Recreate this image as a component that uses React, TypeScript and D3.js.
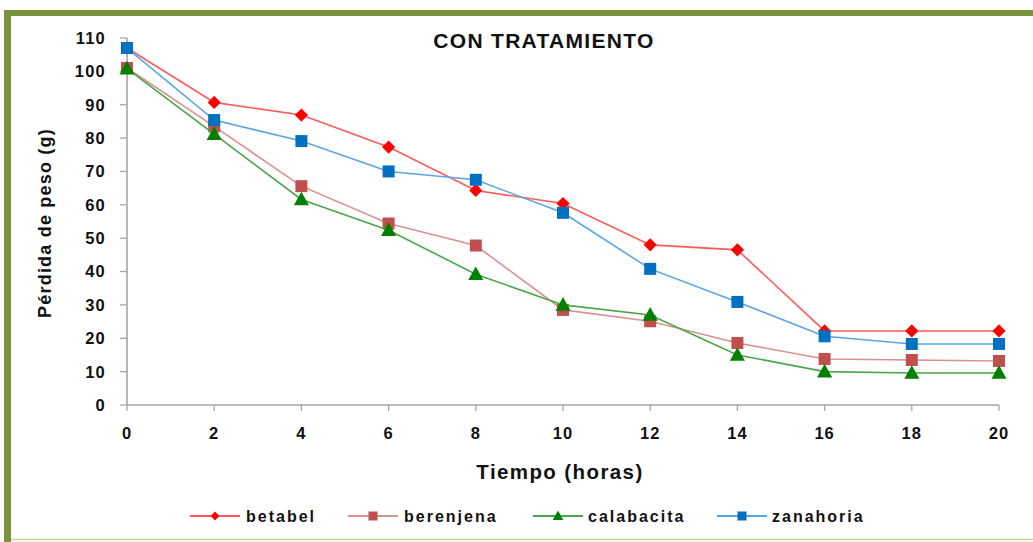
import React from "react";
import * as d3 from "d3";

// Horas de muestreo
const horas = [0, 2, 4, 6, 8, 10, 12, 14, 16, 18, 20];

// Pérdida de peso (g) por hortaliza
const betabel = [107, 90.7, 86.9, 77.3, 64.3, 60.4, 48, 46.5, 22.2, 22.2, 22.2];
const berenjena = [101, 83.5, 65.6, 54.4, 47.8, 28.5, 25.1, 18.6, 13.8, 13.5, 13.2];
const calabacita = [100.8, 81.2, 61.6, 52.4, 39.2, 30, 27, 15, 10, 9.6, 9.6];
const zanahoria = [107, 85.4, 79.1, 70, 67.5, 57.6, 40.8, 30.9, 20.6, 18.3, 18.3];

const yTicks = [0, 10, 20, 30, 40, 50, 60, 70, 80, 90, 100, 110];
const xTicks = [0, 2, 4, 6, 8, 10, 12, 14, 16, 18, 20];

type Shape = "diamond" | "square" | "triangle";
interface Serie {
  name: string;
  values: number[];
  line: string;
  fill: string;
  shape: Shape;
}

const series: Serie[] = [
  { name: "betabel", values: betabel, line: "#ff5a5a", fill: "#ff0000", shape: "diamond" },
  { name: "berenjena", values: berenjena, line: "#d99290", fill: "#c0504d", shape: "square" },
  { name: "calabacita", values: calabacita, line: "#4aa64a", fill: "#008000", shape: "triangle" },
  { name: "zanahoria", values: zanahoria, line: "#5aa5e6", fill: "#0070c0", shape: "square" },
];

const W = 1033;
const H = 542;
const FONT = "'Liberation Sans', Arial, sans-serif";

const x = d3.scaleLinear().domain([0, 20]).range([127, 999]);
const y = d3.scaleLinear().domain([0, 110]).range([405, 38]);

function Marker({ shape, cx, cy, fill, size }: { shape: Shape; cx: number; cy: number; fill: string; size: number }) {
  if (shape === "square") {
    return <rect x={cx - size / 2} y={cy - size / 2} width={size} height={size} fill={fill} />;
  }
  if (shape === "diamond") {
    const r = size * 0.55;
    return <path d={`M${cx},${cy - r}L${cx + r},${cy}L${cx},${cy + r}L${cx - r},${cy}Z`} fill={fill} />;
  }
  const hw = size * 0.58;
  const h = size;
  return (
    <path
      d={`M${cx},${cy - h * 0.6}L${cx + hw},${cy + h * 0.45}L${cx - hw},${cy + h * 0.45}Z`}
      fill={fill}
    />
  );
}

export default function App() {
  const line = d3
    .line<number>()
    .x((_, i) => x(horas[i]))
    .y((v) => y(v));

  const legendItems = [
    { s: series[0], lx: 190, tx: 246 },
    { s: series[1], lx: 348, tx: 404 },
    { s: series[2], lx: 533, tx: 588 },
    { s: series[3], lx: 717, tx: 772 },
  ];

  return (
    <svg
      width={W}
      height={H}
      style={{ position: "absolute", left: 0, top: 0, background: "#ffffff" }}
      fontFamily={FONT}
    >
      {/* marco */}
      <rect x={4} y={10} width={W - 4} height={6} fill="#77933c" />
      <rect x={4} y={10} width={7} height={H - 10} fill="#77933c" />
      <line x1={11} x2={W} y1={539.5} y2={539.5} stroke="#c3d69b" strokeWidth={1.5} />

      {/* título */}
      <text x={544} y={47.5} textAnchor="middle" fontSize={21} fontWeight="bold" letterSpacing={1.3} fill="#111">
        CON TRATAMIENTO
      </text>

      {/* eje Y */}
      <line x1={x(0)} x2={x(0)} y1={y(110)} y2={y(0)} stroke="#a6a6a6" strokeWidth={1.6} />
      {yTicks.map((t) => (
        <g key={`y${t}`}>
          <line x1={x(0) - 7} x2={x(0)} y1={y(t)} y2={y(t)} stroke="#a6a6a6" strokeWidth={1.3} />
          <text
            x={106}
            y={y(t)}
            dy="0.36em"
            textAnchor="end"
            fontSize={16.5}
            fontWeight="bold"
            letterSpacing={1.2}
            fill="#111"
          >
            {t}
          </text>
        </g>
      ))}

      {/* eje X */}
      <line x1={x(0)} x2={x(20)} y1={y(0)} y2={y(0)} stroke="#a6a6a6" strokeWidth={1.6} />
      {xTicks.map((t) => (
        <g key={`x${t}`}>
          <line x1={x(t)} x2={x(t)} y1={y(0)} y2={y(0) + 6} stroke="#a6a6a6" strokeWidth={1.3} />
          <text
            x={x(t)}
            y={439}
            textAnchor="middle"
            fontSize={16.5}
            fontWeight="bold"
            letterSpacing={1}
            fill="#111"
          >
            {t}
          </text>
        </g>
      ))}

      {/* títulos de ejes */}
      <text x={560} y={478.5} textAnchor="middle" fontSize={20.5} fontWeight="bold" letterSpacing={1.4} fill="#111">
        Tiempo (horas)
      </text>
      <text
        transform="translate(51,223) rotate(-90)"
        textAnchor="middle"
        fontSize={18}
        fontWeight="bold"
        letterSpacing={1.2}
        fill="#111"
      >
        Pérdida de peso (g)
      </text>

      {/* series */}
      {series.map((s) => (
        <g key={s.name}>
          <path d={line(s.values) || ""} fill="none" stroke={s.line} strokeWidth={1.6} />
          {s.values.map((v, i) => (
            <Marker
              key={i}
              shape={s.shape}
              cx={x(horas[i])}
              cy={y(v)}
              fill={s.fill}
              size={s.shape === "triangle" ? 13 : 12}
            />
          ))}
        </g>
      ))}

      {/* leyenda */}
      {legendItems.map(({ s, lx, tx }) => (
        <g key={`leg-${s.name}`}>
          <line x1={lx} x2={lx + 50} y1={516} y2={516} stroke={s.line} strokeWidth={1.8} />
          <Marker shape={s.shape} cx={lx + 25} cy={516} fill={s.fill} size={s.shape === "diamond" ? 8 : 9} />
          <text x={tx} y={522} fontSize={16} fontWeight="bold" letterSpacing={2} fill="#111">
            {s.name}
          </text>
        </g>
      ))}
    </svg>
  );
}
